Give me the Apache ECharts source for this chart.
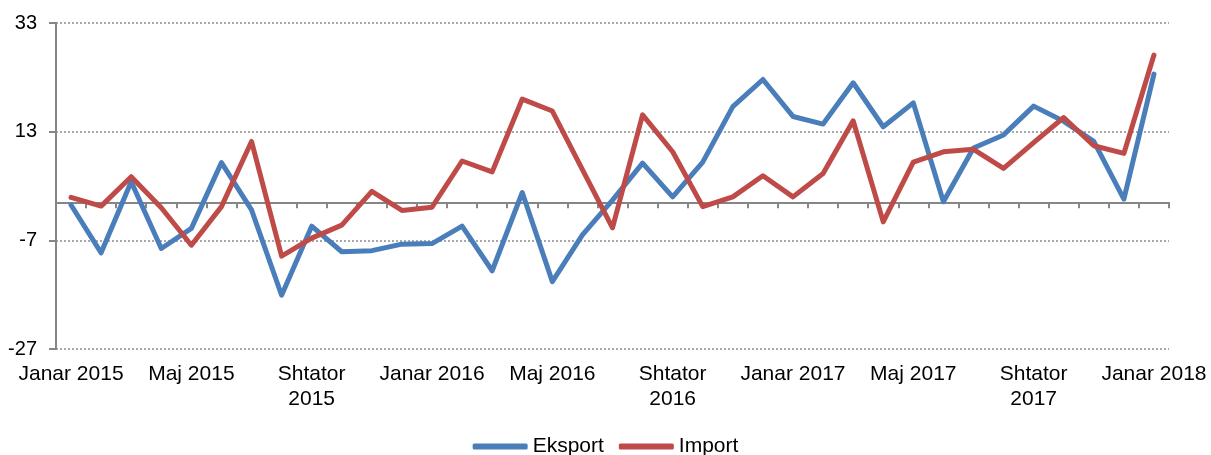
<!DOCTYPE html>
<html>
<head>
<meta charset="utf-8">
<script src="https://cdn.jsdelivr.net/npm/echarts@6/dist/echarts.min.js"></script>
<style>
  html, body { margin: 0; padding: 0; background: #fff; }
  #chart { width: 1211px; height: 455px; }
</style>
</head>
<body>
<div id="chart"></div>
<script>
// muajt
var months = ['Janar 2015', 'Shkurt 2015', 'Mars 2015', 'Prill 2015', 'Maj 2015', 'Qershor 2015',
  'Korrik 2015', 'Gusht 2015', 'Shtator\n2015', 'Tetor 2015', 'Nëntor 2015', 'Dhjetor 2015',
  'Janar 2016', 'Shkurt 2016', 'Mars 2016', 'Prill 2016', 'Maj 2016', 'Qershor 2016',
  'Korrik 2016', 'Gusht 2016', 'Shtator\n2016', 'Tetor 2016', 'Nëntor 2016', 'Dhjetor 2016',
  'Janar 2017', 'Shkurt 2017', 'Mars 2017', 'Prill 2017', 'Maj 2017', 'Qershor 2017',
  'Korrik 2017', 'Gusht 2017', 'Shtator\n2017', 'Tetor 2017', 'Nëntor 2017', 'Dhjetor 2017',
  'Janar 2018'];

var eksport = [-0.5, -9.3, 3.8, -8.5, -4.8, 7.3, -1.4, -17.1, -4.4, -9.1, -8.9, -7.7,
  -7.6, -4.4, -12.6, 1.8, -14.6, -6.0, 0.4, 7.2, 1.0, 7.4, 17.6, 22.6,
  15.8, 14.4, 22.0, 13.9, 18.3, 0.1, 10.0, 12.4, 17.7, 14.9, 11.2, 0.6,
  23.6];

var importi = [0.9, -0.7, 4.7, -1.0, -7.9, -0.8, 11.2, -9.9, -6.6, -4.2, 2.0, -1.5,
  -0.9, 7.6, 5.6, 19.0, 16.8, 6.0, -4.7, 16.1, 9.3, -0.8, 1.0, 4.9,
  1.0, 5.3, 15.0, -3.6, 7.4, 9.3, 9.75, 6.25, 11.0, 15.6, 10.4, 9.0,
  27.1];

var axisGray = '#868686';
var font = 'Liberation Sans, Arial, sans-serif';

var chart = echarts.init(document.getElementById('chart'));
chart.setOption({
  animation: false,
  grid: { left: 56, right: 42, top: 23, bottom: 106 },
  legend: {
    left: 'center',
    top: 431,
    icon: 'roundRect',
    itemWidth: 55,
    itemHeight: 6,
    itemGap: 15,
    textStyle: { fontFamily: font, fontSize: 21, color: '#000' },
    data: ['Eksport', 'Import']
  },
  xAxis: [
    {
      // vija e zeros me shenjat
      type: 'category',
      data: months,
      boundaryGap: true,
      axisLine: { onZero: true, lineStyle: { color: axisGray, width: 2 } },
      axisTick: { show: true, interval: 0, length: 6, inside: false, lineStyle: { color: axisGray, width: 2 } },
      axisLabel: { show: false },
      splitLine: { show: false }
    },
    {
      // etiketat poshte
      type: 'category',
      data: months,
      position: 'bottom',
      boundaryGap: true,
      axisLine: { show: false, onZero: false },
      axisTick: { show: false },
      axisLabel: {
        interval: 3,
        margin: 13,
        fontFamily: font,
        fontSize: 21,
        lineHeight: 25,
        color: '#000'
      },
      splitLine: { show: false }
    }
  ],
  yAxis: {
    type: 'value',
    min: -27,
    max: 33,
    interval: 20,
    axisLine: { show: true, lineStyle: { color: axisGray, width: 2 } },
    axisTick: { show: true, length: 7, lineStyle: { color: axisGray, width: 2 } },
    axisLabel: { margin: 19, fontFamily: font, fontSize: 20, color: '#000' },
    splitLine: { show: true, lineStyle: { color: '#8c8c8c', type: [2, 2], width: 1.5 } }
  },
  series: [
    {
      name: 'Eksport',
      type: 'line',
      xAxisIndex: 0,
      data: eksport,
      symbol: 'none',
      color: '#4A7EBB',
      lineStyle: { width: 5, color: '#4A7EBB', join: 'round', cap: 'round' }
    },
    {
      name: 'Import',
      type: 'line',
      xAxisIndex: 0,
      data: importi,
      symbol: 'none',
      color: '#BE4B48',
      lineStyle: { width: 5, color: '#BE4B48', join: 'round', cap: 'round' }
    }
  ]
});
</script>
</body>
</html>
